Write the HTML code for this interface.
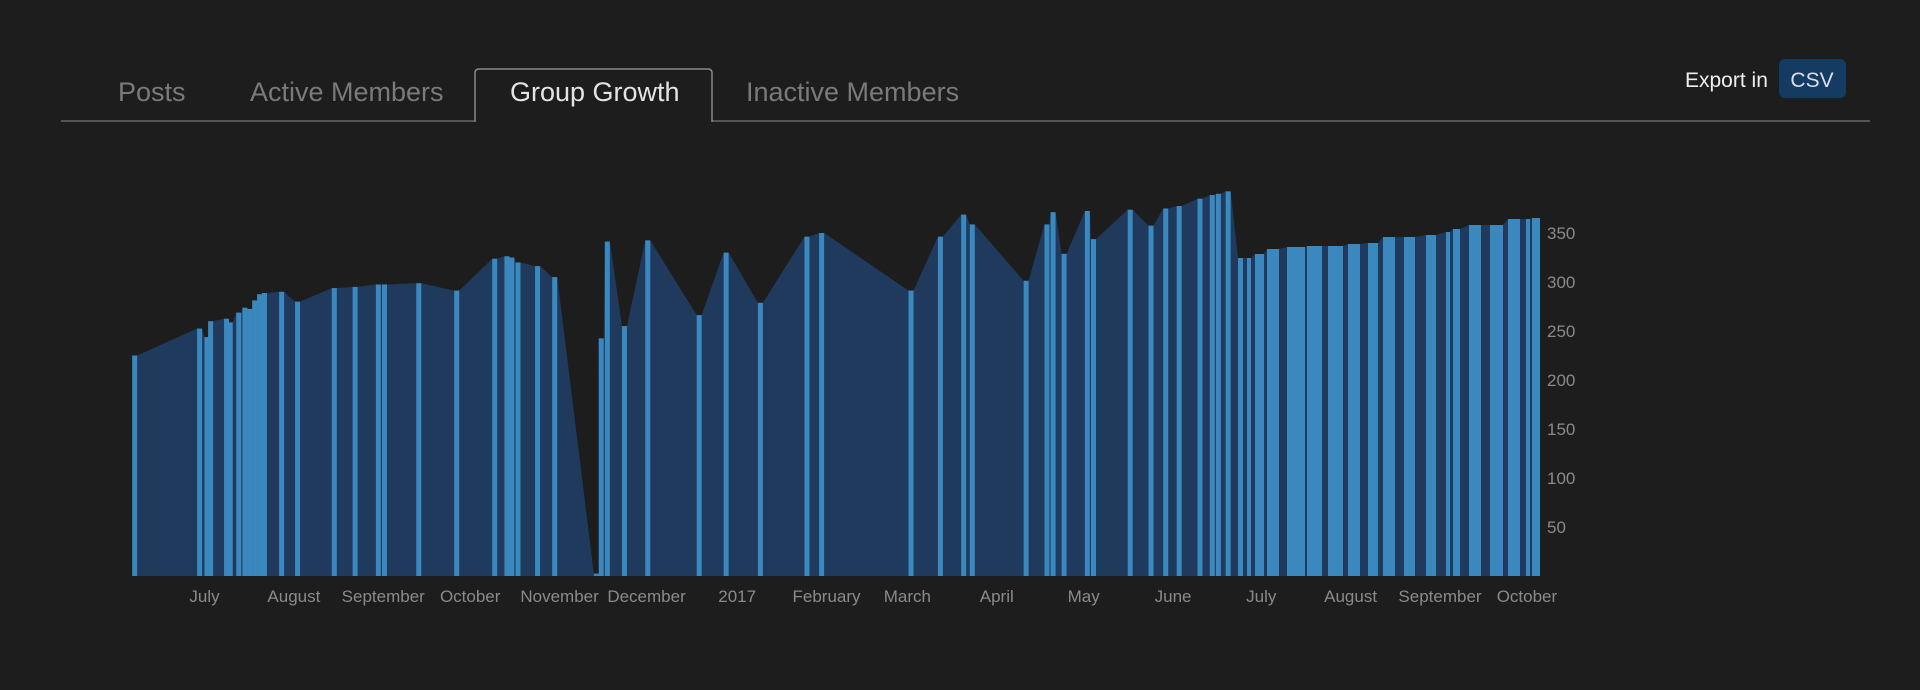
<!DOCTYPE html>
<html><head><meta charset="utf-8"><style>
body{margin:0;background:#1d1d1d;width:1920px;height:690px;overflow:hidden;font-family:"Liberation Sans",sans-serif}
</style></head><body>
<svg id="s" width="1920" height="690" xmlns="http://www.w3.org/2000/svg" style="position:absolute;left:0;top:0">
<line x1="61" y1="121" x2="475" y2="121" stroke="#555" stroke-width="2"/>
<line x1="712" y1="121" x2="1870" y2="121" stroke="#555" stroke-width="2"/>
<path d="M475 122 V73 Q475 69 479 69 H708 Q712 69 712 73 V122" fill="none" stroke="#8a8a8a" stroke-width="1.5"/>
<g font-size="27" font-weight="300" fill="#7a7a7a">
<text x="118" y="101">Posts</text>
<text x="250" y="101">Active Members</text>
<text x="510" y="101" fill="#e4e4e4">Group Growth</text>
<text x="746" y="101">Inactive Members</text>
</g>
<text x="1685" y="87" font-size="21" fill="#eee">Export in</text>
<rect x="1779" y="59" width="67" height="39" rx="6" fill="#143c62"/>
<text x="1812" y="87" font-size="21" fill="#dde" text-anchor="middle">CSV</text>
<g id="chart"></g>
<g font-size="17" fill="#8a8a8a" id="ax"></g>
</svg>
<script>
var B=576,K=49/50;
function Y(v){return B-v*K}
var pts=[[110,290],[163,268],[169,275],[172,262],[185,260],[188,263],[195,255],[200,251],[204,252],[208,245],[212,240],[216,239],[230,238],[243,246],[273,235],[290,234],[309,232],[314,232],[342,231],[373,237],[404,211],[414,209],[418,210],[423,214],[439,217],[453,226],[487,468],[491,276],[496,197],[510,266],[529,196],[571,257],[593,206],[621,247],[659,193],[671,190],[744,237],[768,193],[787,175],[794,183],[838,229],[855,183],[860,173],[869,207],[888,172],[893,195],[923,171],[940,184],[952,170],[963,168],[980,162],[990,159],[995,158],[1003,156]];
var bars=[];
pts.forEach(function(p){var x=p[0]*1.2245,v=(470-p[1])*1.25;bars.push([x-2.5,x+2.5,Y(v)]);});
var rb=[[1238,1243,258],[1247,1251,258],[1255,1264,254],[1267,1279,249],[1287,1305,247],[1307,1322,246],[1328,1343,246],[1348,1360,244],[1368,1378,243],[1383,1395,237],[1404,1415,237],[1426,1436,235],[1446,1450,232],[1453,1460,229],[1469,1481,225],[1490,1503,225],[1508,1520,219],[1526,1530,219],[1532,1540,218]];
rb.forEach(function(b){bars.push(b)});
var area="M"+bars[0][0]+" "+B;
bars.forEach(function(b){area+=" L"+b[0]+" "+b[2]+" L"+b[1]+" "+b[2];});
area+=" L"+bars[bars.length-1][1]+" "+B+" Z";
var h='<path d="'+area+'" fill="#1f3a5c"/>';
bars.forEach(function(b){h+='<rect x="'+b[0]+'" y="'+b[2]+'" width="'+(b[1]-b[0])+'" height="'+(B-b[2])+'" fill="#3b88bf"/>';});
document.getElementById('chart').innerHTML=h;
var a='';
[50,100,150,200,250,300,350].forEach(function(v){a+='<text x="1547" y="'+(Y(v)+6)+'">'+v+'</text>'});
var L=[["July",167],["August",240],["September",313],["October",384],["November",457],["December",528],["2017",602],["February",675],["March",741],["April",814],["May",885],["June",958],["July",1030],["August",1103],["September",1176],["October",1247]];
L.forEach(function(l){a+='<text x="'+(l[1]*1.2245)+'" y="602" text-anchor="middle">'+l[0]+'</text>'});
document.getElementById('ax').innerHTML=a;
</script>
</body></html>
